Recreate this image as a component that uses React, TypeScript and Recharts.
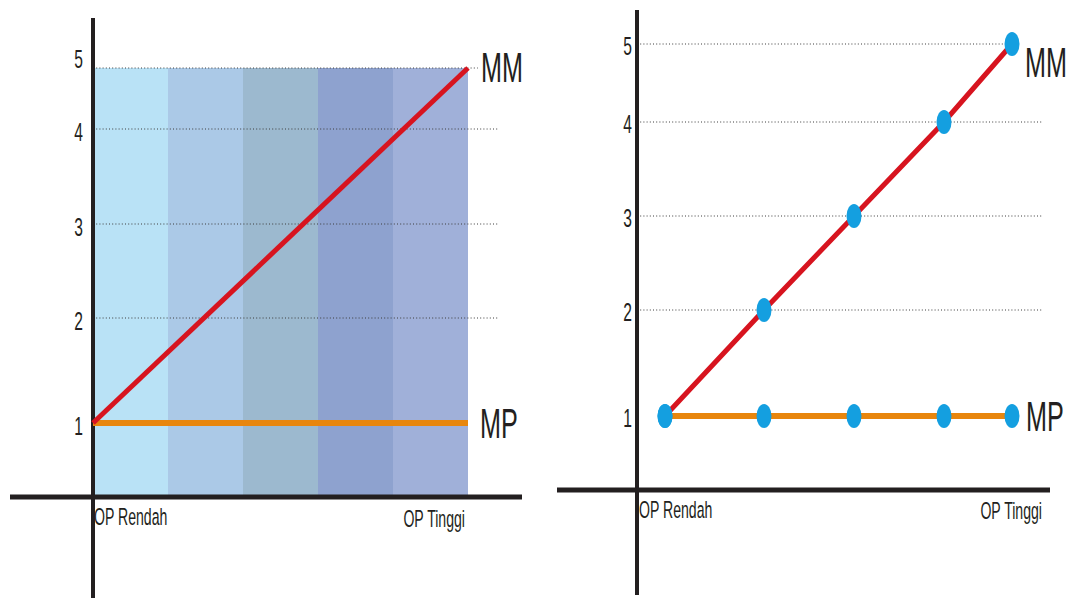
import React from 'react'
import { LineChart, Line, XAxis, YAxis, ReferenceLine, ReferenceArea, ReferenceDot } from 'recharts'

// left panel: just the two ends of the OP range
const leftOp = [0, 5]
const leftMM = [1, 5]
const leftMP = [1, 1]

// right panel: five OP steps
const rightOp = [1, 2, 3, 4, 5]
const rightMM = [1, 2, 3, 4, 5]
const rightMP = [1, 1, 1, 1, 1]

const yTicks = [1, 2, 3, 4, 5]
const xTickLabels = ['OP Rendah', 'OP Tinggi']
const seriesNames = ['MM', 'MP']

const leftData = leftOp.map((op, i) => ({ op, mm: leftMM[i], mp: leftMP[i] }))
const rightData = rightOp.map((op, i) => ({ op, mm: rightMM[i], mp: rightMP[i] }))

const BAND_COLORS = ['#b9e2f6', '#abc9e7', '#9cb9cf', '#8ea2cf', '#a0b0d9']
const INK = '#231f20'
const RED = '#d7141f'
const ORANGE = '#e8860d'
const BLUE = '#149fe0'
const GRID = '#3c3c3c'
const FONT = "'Liberation Sans', Arial, sans-serif"
// the source picture is squeezed sideways, text included
const SQUEEZE = 0.6

// the drawing is not evenly spaced, so each axis gets a piecewise linear scale:
// [value, px from the start of the axis range]
type Knot = [number, number]
const LEFT_X: Knot[] = [[0, 83], [5, 458]]
const LEFT_Y: Knot[] = [[0, 101], [1, 175], [2, 280], [3, 374], [4, 469], [5, 530]]
const RIGHT_X: Knot[] = [[0, 80], [1, 108], [2, 207], [3, 297], [4, 387], [5, 455]]
const RIGHT_Y: Knot[] = [[0, 105], [1, 179], [2, 285], [3, 379], [4, 473], [5, 551]]

function warpScale(knots: Knot[]): any {
  let dom: any[] = [knots[0][0], knots[knots.length - 1][0]]
  let rng: number[] = [0, 1]
  const dist = (v: number) => {
    let i = 0
    while (i < knots.length - 2 && v > knots[i + 1][0]) i++
    const [a, da] = knots[i]
    const [b, db] = knots[i + 1]
    return da + ((v - a) * (db - da)) / (b - a)
  }
  const s: any = (v: any) => {
    if (v == null || !isFinite(Number(v))) return undefined
    return rng[0] + (rng[1] >= rng[0] ? 1 : -1) * dist(Number(v))
  }
  s.domain = (d?: any[]) => (d === undefined ? dom : ((dom = [...d]), s))
  s.range = (r?: number[]) => (r === undefined ? rng : ((rng = [...r]), s))
  s.copy = () => warpScale(knots).domain(dom).range(rng)
  s.ticks = () => knots.map(k => k[0])
  s.tickFormat = () => (v: number) => String(v)
  return s
}

const label = (text: string, dx: number, dy: number, size: number, anchor = 'start') => (p: any) => (
  <text
    transform={`translate(${p.cx + dx},${p.cy + dy}) scale(${SQUEEZE},1)`}
    x={0}
    y={0}
    textAnchor={anchor}
    fontFamily={FONT}
    fontSize={size}
    fill={INK}
  >
    {text}
  </text>
)

const blueDot = (p: any) => (
  <ellipse key={p.index} cx={p.cx} cy={p.cy} rx={7.5} ry={12} fill={BLUE} />
)

const last = (a: number[]) => a[a.length - 1]

const App: React.FC = () => {
  const top = last(yTicks)
  return (
    <div style={{ position: 'absolute', left: 0, top: 0, width: 1072, height: 598, background: '#fff' }}>
      <div style={{ position: 'absolute', left: 0, top: 0 }}>
        <LineChart width={540} height={598} data={leftData} margin={{ top: 18, right: 18, bottom: 0, left: 10 }}>
          <XAxis type="number" dataKey="op" scale={warpScale(LEFT_X)} domain={[-2, 6]} allowDataOverflow hide />
          <YAxis type="number" scale={warpScale(LEFT_Y)} domain={[-2, 6]} allowDataOverflow hide />
          {BAND_COLORS.map((c, i) => (
            <ReferenceArea key={i} x1={i} x2={i + 1} y1={0} y2={top} fill={c} fillOpacity={1} stroke="none" ifOverflow="visible" />
          ))}
          {yTicks.filter(v => v > 1).map(v => (
            <ReferenceLine
              key={v}
              segment={[{ x: 0, y: v }, { x: v === top ? 5.13 : 5.39, y: v }]}
              stroke={GRID}
              strokeDasharray="1 2.2"
              ifOverflow="visible"
            />
          ))}
          <ReferenceLine x={0} stroke={INK} strokeWidth={4} ifOverflow="visible" />
          <ReferenceLine y={0} stroke={INK} strokeWidth={5} ifOverflow="visible" />
          <Line dataKey="mp" stroke={ORANGE} strokeWidth={6} dot={false} isAnimationActive={false} />
          <Line dataKey="mm" stroke={RED} strokeWidth={5} dot={false} isAnimationActive={false} />
          {yTicks.map(v => (
            <ReferenceDot key={v} x={0} y={v} ifOverflow="visible" shape={label(String(v), -10, v === top ? 0 : 12, 26, 'end')} />
          ))}
          <ReferenceDot x={0} y={0} ifOverflow="visible" shape={label(xTickLabels[0], 1, 28, 23.5)} />
          <ReferenceDot x={last(leftOp)} y={0} ifOverflow="visible" shape={label(xTickLabels[1], -3, 30, 23.5, 'end')} />
          <ReferenceDot x={last(leftOp)} y={last(leftMM)} ifOverflow="visible" shape={label(seriesNames[0], 13, 14, 42)} />
          <ReferenceDot x={last(leftOp)} y={last(leftMP)} ifOverflow="visible" shape={label(seriesNames[1], 12, 15, 42)} />
        </LineChart>
      </div>

      <div style={{ position: 'absolute', left: 540, top: 0 }}>
        <LineChart width={532} height={598} data={rightData} margin={{ top: 10, right: 22, bottom: 3, left: 17 }}>
          <XAxis type="number" dataKey="op" scale={warpScale(RIGHT_X)} domain={[-2, 6]} allowDataOverflow hide />
          <YAxis type="number" scale={warpScale(RIGHT_Y)} domain={[-2, 6]} allowDataOverflow hide />
          {yTicks.filter(v => v > 1).map(v => (
            <ReferenceLine
              key={v}
              segment={[{ x: 0, y: v }, { x: v === top ? last(rightOp) : 5.46, y: v }]}
              stroke={GRID}
              strokeDasharray="1 2.2"
              ifOverflow="visible"
            />
          ))}
          <ReferenceLine x={0} stroke={INK} strokeWidth={4} ifOverflow="visible" />
          <ReferenceLine y={0} stroke={INK} strokeWidth={5} ifOverflow="visible" />
          <Line dataKey="mp" stroke={ORANGE} strokeWidth={6} dot={blueDot} isAnimationActive={false} />
          <Line dataKey="mm" stroke={RED} strokeWidth={5} dot={blueDot} isAnimationActive={false} />
          {yTicks.map(v => (
            <ReferenceDot key={v} x={0} y={v} ifOverflow="visible" shape={label(String(v), -5, 11, 26, 'end')} />
          ))}
          <ReferenceDot x={0} y={0} ifOverflow="visible" shape={label(xTickLabels[0], 2, 28, 23.5)} />
          <ReferenceDot x={last(rightOp)} y={0} ifOverflow="visible" shape={label(xTickLabels[1], 30, 29, 23.5, 'end')} />
          <ReferenceDot x={last(rightOp)} y={last(rightMM)} ifOverflow="visible" shape={label(seriesNames[0], 13, 33, 42)} />
          <ReferenceDot x={last(rightOp)} y={last(rightMP)} ifOverflow="visible" shape={label(seriesNames[1], 14, 15, 42)} />
        </LineChart>
      </div>
    </div>
  )
}

export default App
